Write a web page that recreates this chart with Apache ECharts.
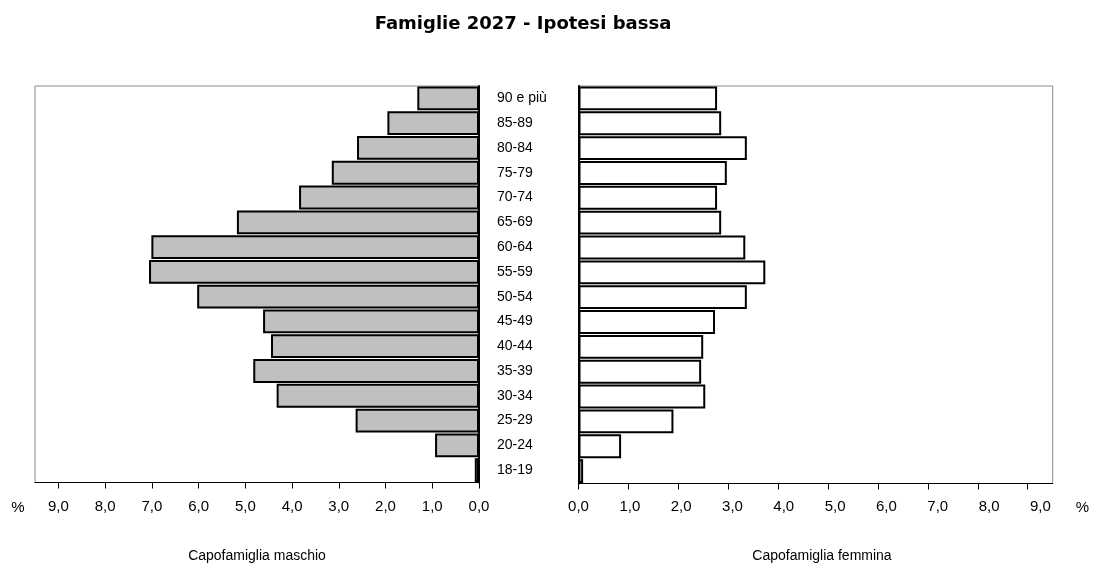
<!DOCTYPE html>
<html>
<head>
<meta charset="utf-8">
<script src="https://cdn.jsdelivr.net/npm/echarts@6/dist/echarts.min.js"></script>
<style>
html,body{margin:0;padding:0;background:#fff;}
#chart{width:1098px;height:571px;}
</style>
</head>
<body>
<div id="chart"></div>
<script>
const categories = ['18-19','20-24','25-29','30-34','35-39','40-44','45-49','50-54','55-59','60-64','65-69','70-74','75-79','80-84','85-89','90 e più'];
const maleValues = [0.09,0.94,2.64,4.33,4.83,4.45,4.62,6.03,7.06,7.01,5.18,3.85,3.15,2.61,1.96,1.32];
const femaleValues = [0.09,0.83,1.85,2.47,2.39,2.43,2.66,3.28,3.64,3.25,2.78,2.70,2.89,3.28,2.78,2.70];
const tickValues = [0,1,2,3,4,5,6,7,8,9];
const titleText = 'Famiglie 2027 - Ipotesi bassa';
const maleTitle = 'Capofamiglia maschio';
const femaleTitle = 'Capofamiglia femmina';

const FONT = '"Liberation Sans", Arial, sans-serif';
const fmt = v => Number(v).toFixed(1).replace('.', ',');

const chart = echarts.init(document.getElementById('chart'), null, {renderer: 'canvas'});
chart.setOption({
  animation: false,
  backgroundColor: '#ffffff',
  title: {
    text: titleText,
    left: 518, top: 10, textAlign: 'center',
    textStyle: {fontFamily: '"DejaVu Sans"', fontWeight: 'bold', fontSize: 18, color: '#000'}
  },
  grid: [
    {left: 35, top: 86, width: 444, height: 396.5, show: true, borderColor: '#8c8c8c', borderWidth: 1},
    {left: 578.5, top: 86, width: 474.2, height: 397.5, show: true, borderColor: '#8c8c8c', borderWidth: 1}
  ],
  xAxis: [
    {
      gridIndex: 0, type: 'value', inverse: true, min: 0, max: 9.5, interval: 1, position: 'bottom',
      splitLine: {show: false},
      axisLine: {show: true, lineStyle: {color: '#000', width: 1}},
      axisTick: {show: true, length: 6, customValues: tickValues, lineStyle: {color: '#000'}},
      axisLabel: {show: true, customValues: tickValues, formatter: fmt, margin: 17, fontSize: 15, color: '#000', fontFamily: FONT}
    },
    {
      gridIndex: 1, type: 'value', min: 0, max: 9.5, interval: 1, position: 'bottom',
      splitLine: {show: false},
      axisLine: {show: true, lineStyle: {color: '#000', width: 1}},
      axisTick: {show: true, length: 6, customValues: tickValues, lineStyle: {color: '#000'}},
      axisLabel: {show: false}
    },
    {
      gridIndex: 1, type: 'value', min: 0, max: 9.24, interval: 1, position: 'bottom',
      splitLine: {show: false},
      axisLine: {show: false},
      axisTick: {show: false},
      axisLabel: {show: true, customValues: tickValues, formatter: fmt, margin: 16, fontSize: 15, color: '#000', fontFamily: FONT}
    }
  ],
  yAxis: [
    {
      gridIndex: 0, type: 'category', data: categories, position: 'right',
      axisLine: {show: true, onZero: false, lineStyle: {color: '#000', width: 2}},
      axisTick: {show: false},
      axisLabel: {show: true, align: 'left', margin: 18, fontSize: 14, color: '#000', fontFamily: FONT}
    },
    {
      gridIndex: 1, type: 'category', data: categories, position: 'left',
      axisLine: {show: true, onZero: false, lineStyle: {color: '#000', width: 2}},
      axisTick: {show: false},
      axisLabel: {show: false}
    }
  ],
  series: [
    {
      name: maleTitle, type: 'bar', xAxisIndex: 0, yAxisIndex: 0, data: maleValues,
      barCategoryGap: '4%',
      itemStyle: {color: '#c0c0c0', borderColor: '#000', borderWidth: 2}
    },
    {
      name: femaleTitle, type: 'bar', xAxisIndex: 2, yAxisIndex: 1, data: femaleValues,
      barCategoryGap: '4%',
      itemStyle: {color: '#ffffff', borderColor: '#000', borderWidth: 2}
    }
  ],
  graphic: [
    {type: 'text', x: 18, y: 507.5, style: {text: '%', font: '15px ' + FONT, fill: '#000', align: 'center', verticalAlign: 'middle'}},
    {type: 'text', x: 1082.5, y: 507.5, style: {text: '%', font: '15px ' + FONT, fill: '#000', align: 'center', verticalAlign: 'middle'}},
    {type: 'text', x: 257, y: 556, style: {text: maleTitle, font: '14px ' + FONT, fill: '#000', align: 'center', verticalAlign: 'middle'}},
    {type: 'text', x: 822, y: 556, style: {text: femaleTitle, font: '14px ' + FONT, fill: '#000', align: 'center', verticalAlign: 'middle'}}
  ]
});
</script>
</body>
</html>
